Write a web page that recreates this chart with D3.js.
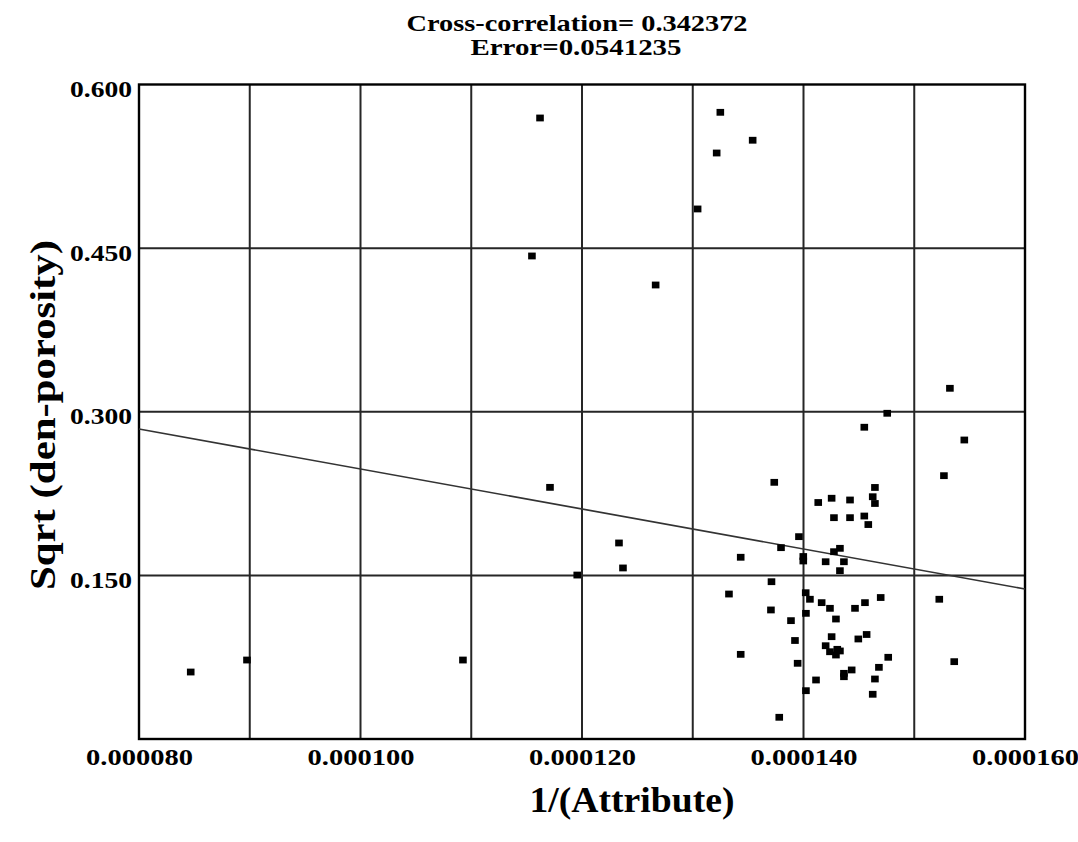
<!DOCTYPE html>
<html>
<head>
<meta charset="utf-8">
<script src="https://cdn.jsdelivr.net/npm/d3@7/dist/d3.min.js"></script>
<style>
  html, body { margin: 0; padding: 0; background: #fff; }
  svg text { font-family: "Liberation Serif", "Times New Roman", serif; font-weight: bold; fill: #000; }
</style>
</head>
<body>
<svg id="chart" width="1078" height="842"></svg>
<script>
// Data (x in units of 1/(Attribute), y = Sqrt(den-porosity))
const xValues = [
  0.00011621, 0.00011548, 0.00012665, 0.00013044, 0.00013249, 0.00013216, 0.00013541,
  0.00011711, 0.00011957, 0.00008467, 0.00008975, 0.00010925, 0.00012334, 0.00012370,
  0.00013736, 0.00014549, 0.00014756, 0.00015322, 0.00015452, 0.00015268,
  0.00014645, 0.00014625, 0.00014645, 0.00014133, 0.00014254, 0.00014420, 0.00014275,
  0.00014420, 0.00014549, 0.00014585, 0.00013959, 0.00013797, 0.00014329, 0.00014275,
  0.00013998, 0.00013998, 0.00014200, 0.00014365, 0.00014329, 0.00013433, 0.00013711,
  0.00013327, 0.00014020, 0.00014058, 0.00014164, 0.00014239, 0.00014465, 0.00014555,
  0.00014697, 0.00015226, 0.00013706, 0.00014022, 0.00013887, 0.00014293, 0.00013923,
  0.00014254, 0.00014495, 0.00014570, 0.00014200, 0.00014239, 0.00014305, 0.00014329,
  0.00014293, 0.00014765, 0.00013433, 0.00013947, 0.00014681, 0.00014365, 0.00014435,
  0.00014365, 0.00014645, 0.00014113, 0.00014022, 0.00014625, 0.00013781, 0.00015361
];
const yValues = [
  0.5693, 0.4428, 0.4162, 0.4859, 0.5745, 0.5372, 0.5489,
  0.2307, 0.1503, 0.0614, 0.0724, 0.0724, 0.1797, 0.1568,
  0.2353, 0.2858, 0.2986, 0.3215, 0.2741, 0.2414,
  0.2306, 0.2221, 0.2159, 0.2168, 0.2207, 0.2191, 0.2029,
  0.2029, 0.2044, 0.1966, 0.1855, 0.1754, 0.1748, 0.1717,
  0.1673, 0.1632, 0.1625, 0.1625, 0.1543, 0.1666, 0.1442,
  0.1329, 0.1341, 0.1281, 0.1250, 0.1198, 0.1198, 0.1250,
  0.1297, 0.1281, 0.1183, 0.1152, 0.1085, 0.1100, 0.0903,
  0.0938, 0.0917, 0.0958, 0.0855, 0.0800, 0.0822, 0.0807,
  0.0770, 0.0749, 0.0776, 0.0694, 0.0657, 0.0602, 0.0633,
  0.0571, 0.0550, 0.0541, 0.0443, 0.0410, 0.0199, 0.0709
];
// Regression line end points
const fitX = [0.00008, 0.00016];
const fitY = [0.2842, 0.1375];

const xTickLabels = ["0.000080", "0.000100", "0.000120", "0.000140", "0.000160"];
const xLabelTicks = [0.00008, 0.0001, 0.00012, 0.00014, 0.00016];
const xGridTicks = [0.00009, 0.0001, 0.00011, 0.00012, 0.00013, 0.00014, 0.00015];
const yTickLabels = ["0.150", "0.300", "0.450", "0.600"];
const yTicks = [0.15, 0.3, 0.45, 0.6];

const titleLines = ["Cross-correlation= 0.342372", "Error=0.0541235"];
const xTitle = "1/(Attribute)";
const yTitle = "Sqrt (den-porosity)";

const svg = d3.select("#chart");
const L = 139, R = 1025, T = 84.5, B = 739;
const x = d3.scaleLinear().domain([0.00008, 0.00016]).range([L, R]);
const y = d3.scaleLinear().domain([0, 0.6]).range([B, T]);

// Grid
const grid = svg.append("g").attr("stroke", "#262626").attr("stroke-width", 2);
grid.selectAll("line.v").data(xGridTicks).join("line")
  .attr("x1", d => x(d)).attr("x2", d => x(d)).attr("y1", T).attr("y2", B);
grid.selectAll("line.h").data(yTicks.slice(0, 3)).join("line")
  .attr("y1", d => y(d)).attr("y2", d => y(d)).attr("x1", L).attr("x2", R);

// Frame
svg.append("rect").attr("x", L).attr("y", T).attr("width", R - L).attr("height", B - T)
  .attr("fill", "none").attr("stroke", "#000").attr("stroke-width", 2.4);

// Regression line
svg.append("line")
  .attr("x1", x(fitX[0])).attr("y1", y(fitY[0]))
  .attr("x2", x(fitX[1])).attr("y2", y(fitY[1]))
  .attr("stroke", "#333").attr("stroke-width", 1.7);

// Points
const pts = xValues.map((v, i) => [v, yValues[i]]);
svg.append("g").selectAll("rect").data(pts).join("rect")
  .attr("x", d => x(d[0]) - 3.8).attr("y", d => y(d[1]) - 3.4)
  .attr("width", 7.6).attr("height", 6.8).attr("fill", "#000");

// Axes labels via d3 axes (no lines)
const xAxis = d3.axisBottom(x).tickValues(xLabelTicks).tickFormat((d, i) => xTickLabels[i]).tickSize(0).tickPadding(0);
const gx = svg.append("g").attr("transform", `translate(0,${B})`).call(xAxis);
gx.select(".domain").remove();
gx.selectAll("text").attr("font-size", 23.5).attr("y", 26).attr("dy", 0)
  .attr("textLength", 107).attr("lengthAdjust", "spacingAndGlyphs")
  .style("font-family", '"Liberation Serif", serif').style("font-weight", "bold");

const yAxis = d3.axisLeft(y).tickValues(yTicks).tickFormat((d, i) => yTickLabels[i]).tickSize(0).tickPadding(0);
const gy = svg.append("g").attr("transform", `translate(${L - 7},0)`).call(yAxis);
gy.select(".domain").remove();
gy.selectAll("text").attr("font-size", 23.5).attr("dy", "0.52em")
  .attr("textLength", 62).attr("lengthAdjust", "spacingAndGlyphs")
  .style("font-family", '"Liberation Serif", serif').style("font-weight", "bold");

// Titles
svg.append("text").attr("x", 577).attr("y", 31).attr("text-anchor", "middle")
  .attr("font-size", 24).attr("textLength", 341).attr("lengthAdjust", "spacingAndGlyphs")
  .text(titleLines[0]);
svg.append("text").attr("x", 576).attr("y", 55).attr("text-anchor", "middle")
  .attr("font-size", 24).attr("textLength", 211).attr("lengthAdjust", "spacingAndGlyphs")
  .text(titleLines[1]);

svg.append("text").attr("x", 632).attr("y", 812).attr("text-anchor", "middle")
  .attr("font-size", 36).attr("textLength", 205).attr("lengthAdjust", "spacingAndGlyphs")
  .text(xTitle);

svg.append("text").attr("transform", "translate(55,415) rotate(-90)").attr("text-anchor", "middle")
  .attr("font-size", 35).attr("textLength", 350).attr("lengthAdjust", "spacingAndGlyphs")
  .text(yTitle);
</script>
</body>
</html>
